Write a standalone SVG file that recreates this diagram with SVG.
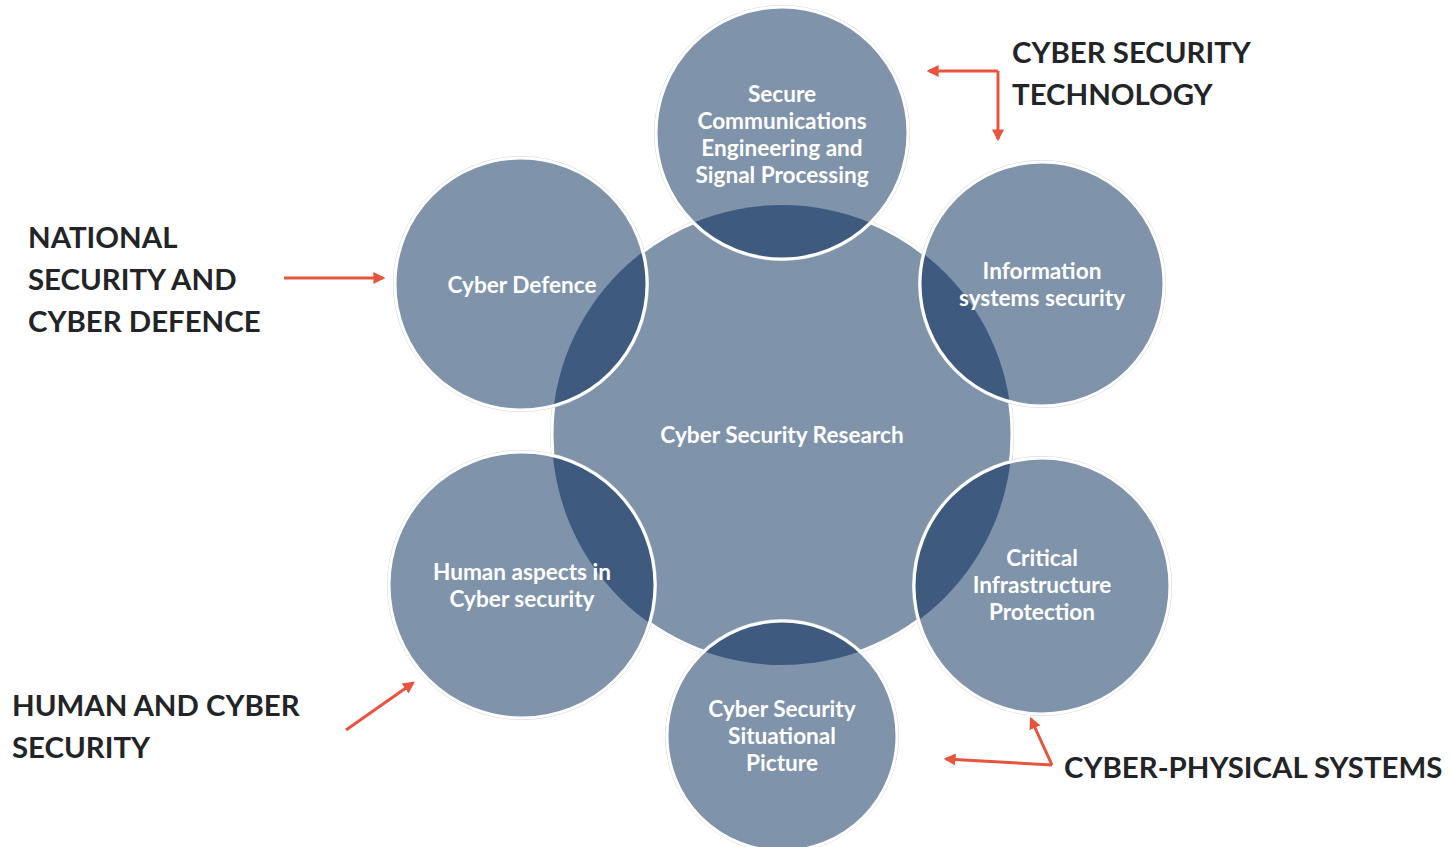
<svg xmlns="http://www.w3.org/2000/svg" width="1450" height="847" viewBox="0 0 1450 847">
<style>
.c{fill:#7f93ab;}
.s{fill:none;stroke:#ffffff;stroke-width:3;}
.h{fill:none;stroke:#d4d4d4;stroke-width:1;}
.ov{fill:#3e5b7f;}
.t{font-family:"Lato","Liberation Sans",sans-serif;font-weight:bold;font-size:22.6px;fill:#ffffff;text-anchor:middle;dominant-baseline:central;}
.l{font-family:"Lato","Liberation Sans",sans-serif;font-weight:bold;font-size:29.4px;fill:#222428;dominant-baseline:central;}
.a{fill:none;stroke:#e8553f;stroke-width:3;marker-end:url(#ah);}
</style>
<defs>
<marker id="ah" viewBox="0 0 10 10" refX="8" refY="5" markerWidth="4" markerHeight="4" orient="auto" markerUnits="strokeWidth">
<path d="M0,0 L10,5 L0,10 Z" fill="#e8553f"/>
</marker>
<clipPath id="cc"><circle cx="782" cy="435" r="230"/></clipPath>
</defs>

<g id="center">
<circle cx="782" cy="435" r="231.5" class="h"/>
<circle cx="782" cy="435" r="230" class="c"/>
<circle cx="782" cy="435" r="230" class="s"/>
<text x="782" y="434" class="t">Cyber Security Research</text>
</g>

<g id="n-secure">
<circle cx="782" cy="133" r="127.5" class="h"/>
<circle cx="782" cy="133" r="126" class="c"/>
<circle cx="782" cy="133" r="126" class="ov" clip-path="url(#cc)"/>
<circle cx="782" cy="133" r="126" class="s"/>
<text x="782" y="93" class="t">Secure</text>
<text x="782" y="120" class="t">Communications</text>
<text x="782" y="147" class="t">Engineering and</text>
<text x="782" y="174" class="t">Signal Processing</text>
</g>

<g id="n-defence">
<circle cx="521" cy="284" r="127.5" class="h"/>
<circle cx="521" cy="284" r="126" class="c"/>
<circle cx="521" cy="284" r="126" class="ov" clip-path="url(#cc)"/>
<circle cx="521" cy="284" r="126" class="s"/>
<text x="522" y="284" class="t">Cyber Defence</text>
</g>

<g id="n-infosys">
<circle cx="1042" cy="284" r="123.5" class="h"/>
<circle cx="1042" cy="284" r="122" class="c"/>
<circle cx="1042" cy="284" r="122" class="ov" clip-path="url(#cc)"/>
<circle cx="1042" cy="284" r="122" class="s"/>
<text x="1042" y="270" class="t">Information</text>
<text x="1042" y="297" class="t">systems security</text>
</g>

<g id="n-human">
<circle cx="522" cy="585" r="134.5" class="h"/>
<circle cx="522" cy="585" r="133" class="c"/>
<circle cx="522" cy="585" r="133" class="ov" clip-path="url(#cc)"/>
<circle cx="522" cy="585" r="133" class="s"/>
<text x="522" y="571" class="t">Human aspects in</text>
<text x="522" y="598" class="t">Cyber security</text>
</g>

<g id="n-critical">
<circle cx="1042" cy="586" r="129.5" class="h"/>
<circle cx="1042" cy="586" r="128" class="c"/>
<circle cx="1042" cy="586" r="128" class="ov" clip-path="url(#cc)"/>
<circle cx="1042" cy="586" r="128" class="s"/>
<text x="1042" y="557" class="t">Critical</text>
<text x="1042" y="584" class="t">Infrastructure</text>
<text x="1042" y="611" class="t">Protection</text>
</g>

<g id="n-situational">
<circle cx="782" cy="736" r="116.5" class="h"/>
<circle cx="782" cy="736" r="115" class="c"/>
<circle cx="782" cy="736" r="115" class="ov" clip-path="url(#cc)"/>
<circle cx="782" cy="736" r="115" class="s"/>
<text x="782" y="708" class="t">Cyber Security</text>
<text x="782" y="735" class="t">Situational</text>
<text x="782" y="762" class="t">Picture</text>
</g>

<g id="lbl-tech">
<text x="1012" y="51" class="l">CYBER SECURITY</text>
<text x="1012" y="93" class="l">TECHNOLOGY</text>
</g>
<g id="lbl-national">
<text x="28" y="236" class="l">NATIONAL</text>
<text x="28" y="278" class="l">SECURITY AND</text>
<text x="28" y="320" class="l">CYBER DEFENCE</text>
</g>
<g id="lbl-human">
<text x="12" y="704" class="l">HUMAN AND CYBER</text>
<text x="12" y="746" class="l">SECURITY</text>
</g>
<g id="lbl-cps">
<text x="1064" y="766" class="l">CYBER-PHYSICAL SYSTEMS</text>
</g>

<g id="connectors">
<path class="a" d="M998,71 L929,71"/>
<path class="a" d="M998,71 L998,139"/>
<path class="a" d="M284,278 L383,278"/>
<path class="a" d="M346,730 L413,683"/>
<path class="a" d="M1052,765 L946,759"/>
<path class="a" d="M1052,765 L1031,719"/>
</g>
</svg>
